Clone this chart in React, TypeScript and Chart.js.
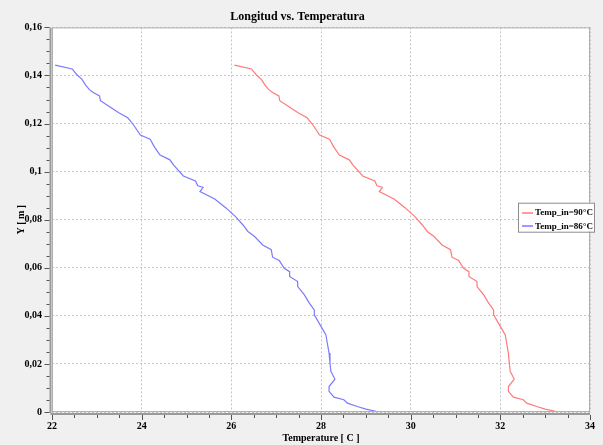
import React, { useEffect, useRef } from 'react';
import { Chart, registerables } from 'chart.js';

Chart.register(...registerables);

const chartTitle = 'Longitud vs. Temperatura';
const xAxisTitle = 'Temperature [ C ]';
const yAxisTitle = 'Y [ m ]';
const seriesLabels = ['Temp_in=90°C', 'Temp_in=86°C'];
const seriesColors = ['#ff7a7a', '#7a7aff'];
const xTickLabels = ['22', '24', '26', '28', '30', '32', '34'];
const yTickLabels = ['0', '0,02', '0,04', '0,06', '0,08', '0,1', '0,12', '0,14', '0,16'];

const yPositions = [
  0.1443, 0.1427, 0.1402, 0.1384, 0.136, 0.134, 0.1328, 0.1315, 0.1295, 0.1273,
  0.1245, 0.1224, 0.1194, 0.1152, 0.1135, 0.1104, 0.1069, 0.1049, 0.1028, 0.0982,
  0.0961, 0.0941, 0.0935, 0.0917, 0.0886, 0.0849, 0.0812, 0.0778, 0.0751, 0.073,
  0.0695, 0.0675, 0.0644, 0.063, 0.0598, 0.0584, 0.0564, 0.0543, 0.0522, 0.0487,
  0.0453, 0.0425, 0.0404, 0.0356, 0.0321, 0.0287, 0.0245, 0.0204, 0.0169, 0.0137,
  0.0106, 0.0086, 0.0062, 0.0051, 0.0037, 0.0023, 0.0012, 0.0003,
];

const temp86 = [
  22.07, 22.45, 22.56, 22.67, 22.75, 22.84, 22.93, 23.06, 23.08, 23.26,
  23.49, 23.69, 23.82, 23.97, 24.19, 24.28, 24.41, 24.63, 24.71, 24.93,
  25.2, 25.25, 25.37, 25.3, 25.63, 25.88, 26.1, 26.26, 26.37, 26.52,
  26.7, 26.89, 26.92, 27.07, 27.18, 27.3, 27.3, 27.48, 27.48, 27.63,
  27.74, 27.85, 27.85, 28.0, 28.11, 28.14, 28.18, 28.2, 28.22, 28.31,
  28.18, 28.18, 28.29, 28.51, 28.59, 28.81, 29.0, 29.23,
];

const temp90 = [
  26.07, 26.45, 26.56, 26.67, 26.75, 26.84, 26.93, 27.06, 27.08, 27.26,
  27.49, 27.69, 27.82, 27.97, 28.19, 28.28, 28.41, 28.63, 28.71, 28.93,
  29.2, 29.25, 29.37, 29.3, 29.63, 29.88, 30.1, 30.26, 30.37, 30.52,
  30.7, 30.89, 30.92, 31.07, 31.18, 31.3, 31.3, 31.48, 31.48, 31.63,
  31.74, 31.85, 31.85, 32.0, 32.11, 32.14, 32.18, 32.2, 32.22, 32.31,
  32.18, 32.18, 32.29, 32.51, 32.59, 32.81, 33.0, 33.23,
];

const FONT = "'Liberation Serif', 'Times New Roman', serif";

const decorPlugin = {
  id: 'decor',
  beforeDraw(chart: any) {
    const { ctx, chartArea: a, width, height } = chart;
    ctx.save();
    ctx.fillStyle = '#f0f0f0';
    ctx.fillRect(0, 0, width, height);
    ctx.fillStyle = '#ffffff';
    ctx.fillRect(a.left, a.top, a.right - a.left, a.bottom - a.top);
    ctx.restore();
  },
  afterDraw(chart: any) {
    const { ctx, chartArea: a } = chart;
    const xs = chart.scales.x;
    const ys = chart.scales.y;
    ctx.save();
    // frame
    ctx.strokeStyle = '#b0b0b0';
    ctx.lineWidth = 1;
    ctx.strokeRect(a.left + 0.5, a.top + 0.5, a.right - a.left - 1, a.bottom - a.top - 1);
    // axis lines
    const axX = a.left - 1.5;
    const axY = a.bottom + 2;
    ctx.strokeStyle = '#9a9a9a';
    ctx.lineWidth = 2;
    ctx.beginPath();
    ctx.moveTo(axX, a.top);
    ctx.lineTo(axX, a.bottom + 1);
    ctx.moveTo(axX, axY);
    ctx.lineTo(a.right, axY);
    ctx.stroke();
    // ticks
    ctx.strokeStyle = '#555555';
    ctx.lineWidth = 1;
    ctx.beginPath();
    for (let i = 0; i <= 32; i++) {
      const v = ys.min + (i * (ys.max - ys.min)) / 32;
      const py = Math.round(ys.getPixelForValue(v)) + 0.5;
      const len = i % 4 === 0 ? 5 : 3;
      ctx.moveTo(axX - 1, py);
      ctx.lineTo(axX - 1 - len, py);
    }
    for (let i = 0; i <= 24; i++) {
      const v = xs.min + (i * (xs.max - xs.min)) / 24;
      const px = Math.round(xs.getPixelForValue(v)) + 0.5;
      const len = i % 4 === 0 ? 5 : 3;
      ctx.moveTo(px, axY + 1);
      ctx.lineTo(px, axY + 1 + len);
    }
    ctx.stroke();
    // legend
    const bx = a.right - 72;
    const by = ys.getPixelForValue(0.08) - 17;
    const bw = 76;
    const bh = 29;
    ctx.fillStyle = '#ffffff';
    ctx.fillRect(bx, by, bw, bh);
    ctx.strokeStyle = '#8c8c8c';
    ctx.lineWidth = 1;
    ctx.strokeRect(bx + 0.5, by + 0.5, bw, bh);
    ctx.font = `bold 9px ${FONT}`;
    ctx.textBaseline = 'middle';
    ctx.textAlign = 'left';
    chart.data.datasets.forEach((ds: any, i: number) => {
      const ly = by + 10 + i * 13.5;
      ctx.strokeStyle = seriesColors[i];
      ctx.lineWidth = 1.5;
      ctx.beginPath();
      ctx.moveTo(bx + 4, Math.round(ly));
      ctx.lineTo(bx + 15, Math.round(ly));
      ctx.stroke();
      ctx.fillStyle = '#000000';
      ctx.fillText(ds.label, bx + 17, ly);
    });
    ctx.restore();
  },
};

export default function App() {
  const ref = useRef<HTMLCanvasElement | null>(null);

  useEffect(() => {
    if (!ref.current) return;
    const chart = new Chart(ref.current, {
      type: 'line',
      data: {
        datasets: [
          {
            label: seriesLabels[0],
            data: temp90.map((t, i) => ({ x: t, y: yPositions[i] })),
            borderColor: seriesColors[0],
            backgroundColor: seriesColors[0],
            borderWidth: 1.2,
            pointRadius: 0,
            tension: 0,
          },
          {
            label: seriesLabels[1],
            data: temp86.map((t, i) => ({ x: t, y: yPositions[i] })),
            borderColor: seriesColors[1],
            backgroundColor: seriesColors[1],
            borderWidth: 1.2,
            pointRadius: 0,
            tension: 0,
          },
        ],
      },
      options: {
        responsive: false,
        animation: false,
        layout: { padding: { left: 0, right: 8, top: 0, bottom: 0 } },
        plugins: {
          legend: { display: false },
          tooltip: { enabled: false },
          title: {
            display: true,
            text: chartTitle,
            color: '#000000',
            font: { family: FONT, size: 12, weight: 'bold' },
            padding: { top: 10, bottom: 3 },
          },
        },
        scales: {
          x: {
            type: 'linear',
            min: 22,
            max: 34,
            afterFit: (s: any) => { s.height = 33; },
            ticks: {
              stepSize: 2,
              color: '#000000',
              font: { family: FONT, size: 10, weight: 'bold' },
              padding: 8,
              maxRotation: 0,
              callback: (_v: any, i: number) => xTickLabels[i],
            },
            grid: {
              color: '#c4c4c4',
              drawTicks: false,
            },
            border: { display: false, dash: [2, 2] },
            title: {
              display: true,
              text: xAxisTitle,
              color: '#000000',
              font: { family: FONT, size: 10, weight: 'bold' },
              padding: { top: 0, bottom: 1 },
            },
          },
          y: {
            type: 'linear',
            min: 0,
            max: 0.16,
            afterFit: (s: any) => { s.width = 52; },
            ticks: {
              stepSize: 0.02,
              color: '#000000',
              font: { family: FONT, size: 10, weight: 'bold' },
              padding: 10,
              callback: (_v: any, i: number) => yTickLabels[i],
            },
            grid: {
              color: '#c4c4c4',
              drawTicks: false,
            },
            border: { display: false, dash: [2, 2] },
            title: {
              display: true,
              text: yAxisTitle,
              color: '#000000',
              font: { family: FONT, size: 10, weight: 'bold' },
              padding: { top: 15, bottom: 0 },
            },
          },
        },
      },
      plugins: [decorPlugin],
    } as any);
    return () => chart.destroy();
  }, []);

  return (
    <div style={{ position: 'fixed', left: 0, top: 0, width: 603, height: 445 }}>
      <canvas ref={ref} width={603} height={445} style={{ display: 'block' }} />
    </div>
  );
}
